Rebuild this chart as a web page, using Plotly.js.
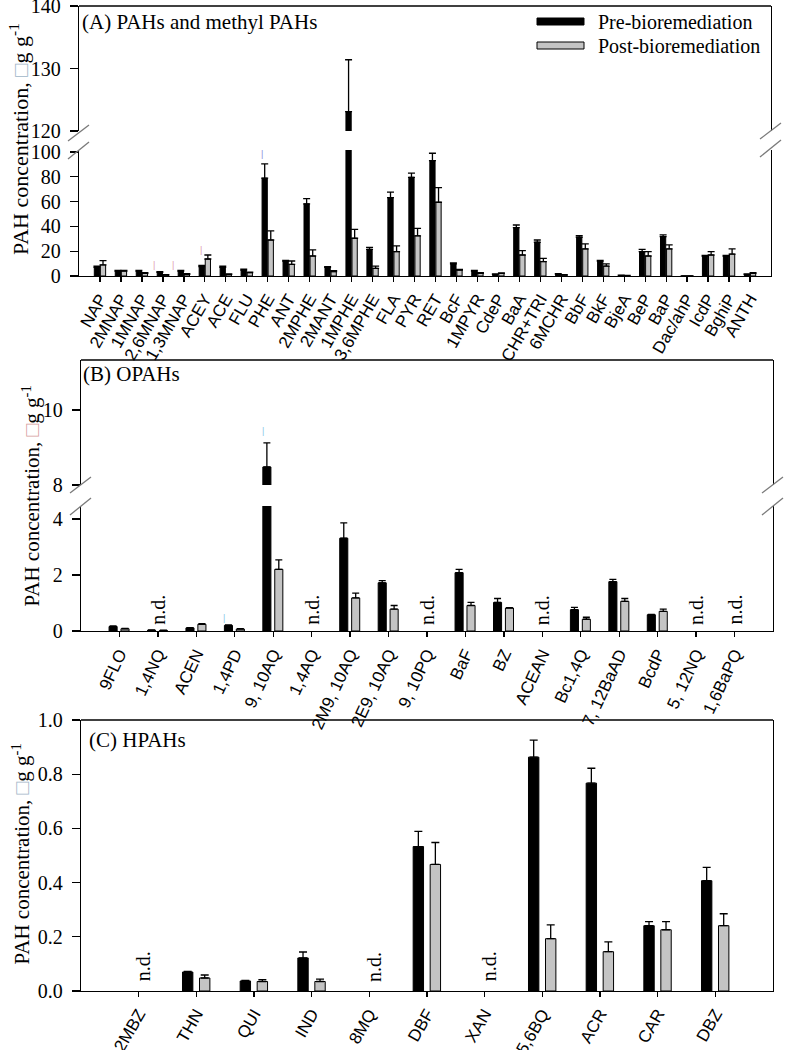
<!DOCTYPE html>
<html><head><meta charset="utf-8">
<script src="https://cdn.plot.ly/plotly-3.0.1.min.js"></script>
<style>html,body{margin:0;padding:0;background:#fff}#chart{width:785px;height:1050px}</style>
</head><body><div id="chart"></div>
<script>
// ---------- Panel A: PAHs and methyl PAHs ----------
const catA = ['NAP','2MNAP','1MNAP','2,6MNAP','1,3MNAP','ACEY','ACE','FLU','PHE','ANT','2MPHE','2MANT','1MPHE','3,6MPHE','FLA','PYR','RET','BcF','1MPYR','CdeP','BaA','CHR+TRI','6MCHR','BbF','BkF','BjeA','BeP','BaP','Dac/ahP','IcdP','BghiP','ANTH'];
const preA     = [7.0,4.0,4.0,3.0,4.0,7.5,7.0,4.8,78.8,12.1,58.1,7.0,123.1,21.5,63.2,79.5,93.0,9.7,4.0,1.3,39.0,27.2,1.6,31.2,12.1,0.5,19.6,31.7,0,16.1,16.1,1.3];
const preAErr  = [1.0,0.5,0.5,0.5,0.5,1.0,1.0,0.7,11.5,0.5,4.3,0.5,8.3,1.6,4.3,3.3,5.9,0.8,0.5,0.3,2.1,1.8,0.3,1.3,0.5,0.2,1.9,1.4,0,0.5,0.5,0.3];
const postA    = [8.9,4.0,2.1,0.8,1.3,13.7,1.3,2.7,29.0,9.4,16.1,3.5,30.4,6.2,19.6,32.4,59.4,4.8,2.1,2.1,16.9,11.6,0.8,21.8,8.0,0.3,16.1,21.8,0,16.9,17.7,2.1];
const postAErr = [3.5,0.5,0.5,0.3,0.5,3.2,0.4,0.5,7.3,2.7,4.9,0.8,7.2,1.8,4.6,6.0,11.8,0.6,0.6,0.3,3.5,2.6,0.3,4.0,1.7,0.2,3.5,3.2,0,2.7,4.1,0.6];

// ---------- Panel B: OPAHs ----------
const catB = ['9FLO','1,4NQ','ACEN','1,4PD','9, 10AQ','1,4AQ','2M9, 10AQ','2E9, 10AQ','9, 10PQ','BaF','BZ','ACEAN','Bc1,4Q','7, 12BaAD','BcdP','5, 12NQ','1,6BaPQ'];
const preB     = [0.16,0.03,0.11,0.20,8.48,null,3.31,1.72,null,2.08,1.02,null,0.76,1.76,0.58,null,null];
const preBErr  = [0.02,0.01,0.01,0.02,0.64,null,0.55,0.08,null,0.12,0.14,null,0.08,0.08,0.01,null,null];
const postB    = [0.08,0.02,0.24,0.07,2.20,null,1.18,0.78,null,0.91,0.82,null,0.42,1.06,0.70,null,null];
const postBErr = [0.01,0.01,0.02,0.01,0.34,null,0.17,0.13,null,0.11,0.01,null,0.07,0.10,0.08,null,null];
const ndB = ['1,4NQ','1,4AQ','9, 10PQ','ACEAN','5, 12NQ','1,6BaPQ'];

// ---------- Panel C: HPAHs ----------
const catC = ['2MBZ','THN','QUI','IND','8MQ','DBF','XAN','5,6BQ','ACR','CAR','DBZ'];
const preC     = [null,0.070,0.037,0.122,null,0.533,null,0.863,0.767,0.241,0.407];
const preCErr  = [null,0.002,0.002,0.022,null,0.056,null,0.063,0.055,0.015,0.049];
const postC    = [null,0.048,0.035,0.035,null,0.467,null,0.193,0.145,0.226,0.241];
const postCErr = [null,0.011,0.007,0.009,null,0.081,null,0.051,0.036,0.030,0.044];
const ndC = ['2MBZ','8MQ','XAN'];

// ---------- helpers (pixel -> paper) ----------
const W = 785, H = 1050;
const X = p => p / W, Y = p => 1 - p / H;
const SERIF = '"Liberation Serif","Times New Roman",Times,serif';
const SANS = '"Liberation Sans",Arial,Helvetica,sans-serif';
const BLACK = '#000000', GRAY = '#c4c4c4';
const zeros = a => a.map(v => (v === null ? null : 0));

function barPair(cat, pre, preErr, post, postErr, xa, ya, geo) {
  const mk = (y, err, color, off) => ({
    type: 'bar', x: cat, y: y, xaxis: xa, yaxis: ya,
    offset: off, width: geo.w,
    marker: {color: color, line: {color: BLACK, width: 1}},
    error_y: {type: 'data', symmetric: false, array: err, arrayminus: zeros(err),
              color: BLACK, thickness: 1.3, width: geo.cap},
    showlegend: false, hoverinfo: 'skip'
  });
  return [mk(pre, preErr, BLACK, geo.pre), mk(post, postErr, GRAY, geo.post)];
}

const gA = {w: 0.25, pre: -0.27, post: 0.02, cap: 3.5};
const gB = {w: 0.21, pre: -0.27, post: 0.04, cap: 3.5};
const gC = {w: 0.18, pre: -0.24, post: 0.055, cap: 4};

const data = [
  ...barPair(catA, preA, preAErr, postA, postAErr, 'x', 'y', gA),
  ...barPair(catA, preA, preAErr, postA, postAErr, 'x', 'y2', gA),
  ...barPair(catB, preB, preBErr, postB, postBErr, 'x2', 'y3', gB),
  ...barPair(catB, preB, preBErr, postB, postBErr, 'x2', 'y4', gB),
  ...barPair(catC, preC, preCErr, postC, postCErr, 'x3', 'y5', gC)
];

const yTickFont = {family: SERIF, size: 20, color: BLACK};
const xTickFont = {family: SANS, size: 17, color: BLACK};
const yBase = {showline: true, mirror: true, linecolor: BLACK, linewidth: 1.3, ticks: 'outside',
  ticklen: 8, tickwidth: 1.3, tickcolor: BLACK, tickfont: yTickFont, showgrid: false,
  zeroline: false, ticklabelstandoff: 5, ticklabeloverflow: 'allow', fixedrange: true};
const xBase = {type: 'category', showline: true, linecolor: BLACK, linewidth: 1.3, ticks: 'outside',
  ticklen: 5, tickwidth: 1.3, tickcolor: BLACK, tickfont: xTickFont, showgrid: false,
  zeroline: false, ticklabeloverflow: 'allow', fixedrange: true};

const layout = {
  width: W, height: H, margin: {l: 0, r: 0, t: 0, b: 0},
  paper_bgcolor: '#ffffff', plot_bgcolor: 'rgba(0,0,0,0)',
  barmode: 'overlay', showlegend: false, hovermode: false,
  xaxis:  Object.assign({}, xBase, {domain: [X(79), X(771)], anchor: 'y', range: [-1, catA.length], tickangle: -60}),
  yaxis:  Object.assign({}, yBase, {domain: [Y(276), Y(150)], anchor: 'x', range: [0, 101.5], tickvals: [0,20,40,60,80,100]}),
  yaxis2: Object.assign({}, yBase, {domain: [Y(131), Y(6)], anchor: 'x', range: [120, 140], tickvals: [120,130,140]}),
  xaxis2: Object.assign({}, xBase, {domain: [X(81), X(773)], anchor: 'y3', range: [-1, catB.length], tickangle: -65}),
  yaxis3: Object.assign({}, yBase, {domain: [Y(631), Y(506)], anchor: 'x2', range: [0, 4.46], tickvals: [0,2,4]}),
  yaxis4: Object.assign({}, yBase, {domain: [Y(485), Y(360)], anchor: 'x2', range: [8, 11.33], tickvals: [8,10]}),
  xaxis3: Object.assign({}, xBase, {domain: [X(81), X(773)], anchor: 'y5', range: [-1, catC.length], tickangle: -60}),
  yaxis5: Object.assign({}, yBase, {domain: [Y(991), Y(720)], anchor: 'x3', range: [0, 1.0], tickvals: [0,0.2,0.4,0.6,0.8,1.0], tickformat: '.1f'}),
  shapes: [],
  annotations: []
};

// frame tops
const line = (x0, y0, x1, y1, color, w) => ({type: 'line', xref: 'paper', yref: 'paper',
  x0: X(x0), y0: Y(y0), x1: X(x1), y1: Y(y1), line: {color: color, width: w}});
layout.shapes.push(line(79, 6, 771, 6, BLACK, 1.3));
layout.shapes.push(line(81, 360, 773, 360, BLACK, 1.3));
layout.shapes.push(line(81, 720, 773, 720, BLACK, 1.3));
// axis break marks
function breaks(ax, yTop, yBot) {
  const c = '#7a7a7a';
  layout.shapes.push(line(ax - 11, yTop + 8, ax + 10, yTop - 8, c, 1.3));
  layout.shapes.push(line(ax - 11, yBot + 9, ax + 10, yBot - 8, c, 1.3));
}
breaks(79, 133, 150); breaks(771, 131, 148);
breaks(81, 485, 506); breaks(773, 485, 506);

// legend (drawn)
layout.shapes.push({type: 'rect', xref: 'paper', yref: 'paper', x0: X(537), x1: X(584), y0: Y(25), y1: Y(18),
  fillcolor: BLACK, line: {color: BLACK, width: 1}});
layout.shapes.push({type: 'rect', xref: 'paper', yref: 'paper', x0: X(537), x1: X(584), y0: Y(49), y1: Y(42),
  fillcolor: GRAY, line: {color: BLACK, width: 1}});
const txt = (text, x, y, opts) => Object.assign({text: text, xref: 'paper', yref: 'paper', x: X(x), y: Y(y),
  showarrow: false, xanchor: 'left', yanchor: 'middle', font: {family: SERIF, size: 20, color: BLACK}}, opts || {});
layout.annotations.push(txt('Pre-bioremediation', 596, 22));
layout.annotations.push(txt('Post-bioremediation', 596, 46));

// panel titles
layout.annotations.push(txt('(A) PAHs and methyl PAHs', 80, 22, {font: {family: SERIF, size: 21, color: BLACK}}));
layout.annotations.push(txt('(B) OPAHs', 81, 374, {font: {family: SERIF, size: 21, color: BLACK}}));
layout.annotations.push(txt('(C) HPAHs', 87, 740, {font: {family: SERIF, size: 21, color: BLACK}}));

// y titles
const ytitle = (x, yb, boxColor, size) => txt('PAH concentration, <span style="color:' + boxColor + '">\u25A1</span>g g<sup>-1</sup>',
  x, yb, {xanchor: 'center', yanchor: 'bottom', textangle: -90, font: {family: SERIF, size: size, color: BLACK}});
layout.annotations.push(ytitle(19, 257, '#9fb6c8', 22));
layout.annotations.push(ytitle(31, 609, '#d6a0a0', 21));
layout.annotations.push(ytitle(21, 967, '#9fb6c8', 21));

// n.d. labels
const nd = (xref, yref, cat, yv, xs) => ({text: 'n.d.', xref: xref, yref: yref, x: cat, y: yv, xshift: xs,
  showarrow: false, textangle: -90, xanchor: 'center', yanchor: 'middle',
  font: {family: SERIF, size: 20, color: BLACK}});
ndB.forEach(c => layout.annotations.push(nd('x2', 'y3', c, 0.75, 0)));
ndC.forEach(c => layout.annotations.push(nd('x3', 'y5', c, 0.09, 4)));

// faint glyph marks above some bars
const mark = (xref, yref, cat, yv, xs, col) => ({text: '|', xref: xref, yref: yref, x: cat, y: yv, xshift: xs,
  showarrow: false, font: {family: SANS, size: 9, color: col}});
layout.annotations.push(mark('x', 'y', 'PHE', 98, -6, '#8c8cd8'));
layout.annotations.push(mark('x', 'y', '2,6MNAP', 9, -9, '#e0a0b0'));
layout.annotations.push(mark('x', 'y', '1,3MNAP', 9, -11, '#e0a0b0'));
layout.annotations.push(mark('x', 'y', 'ACEY', 21, -4, '#e0a0b0'));
layout.annotations.push(mark('x2', 'y4', '9, 10AQ', 9.45, -10, '#8cc8e8'));
layout.annotations.push(mark('x2', 'y3', '1,4PD', 0.46, -11, '#8cc8e8'));

Plotly.newPlot('chart', data, layout, {staticPlot: true, displayModeBar: false});
</script>
</body></html>
